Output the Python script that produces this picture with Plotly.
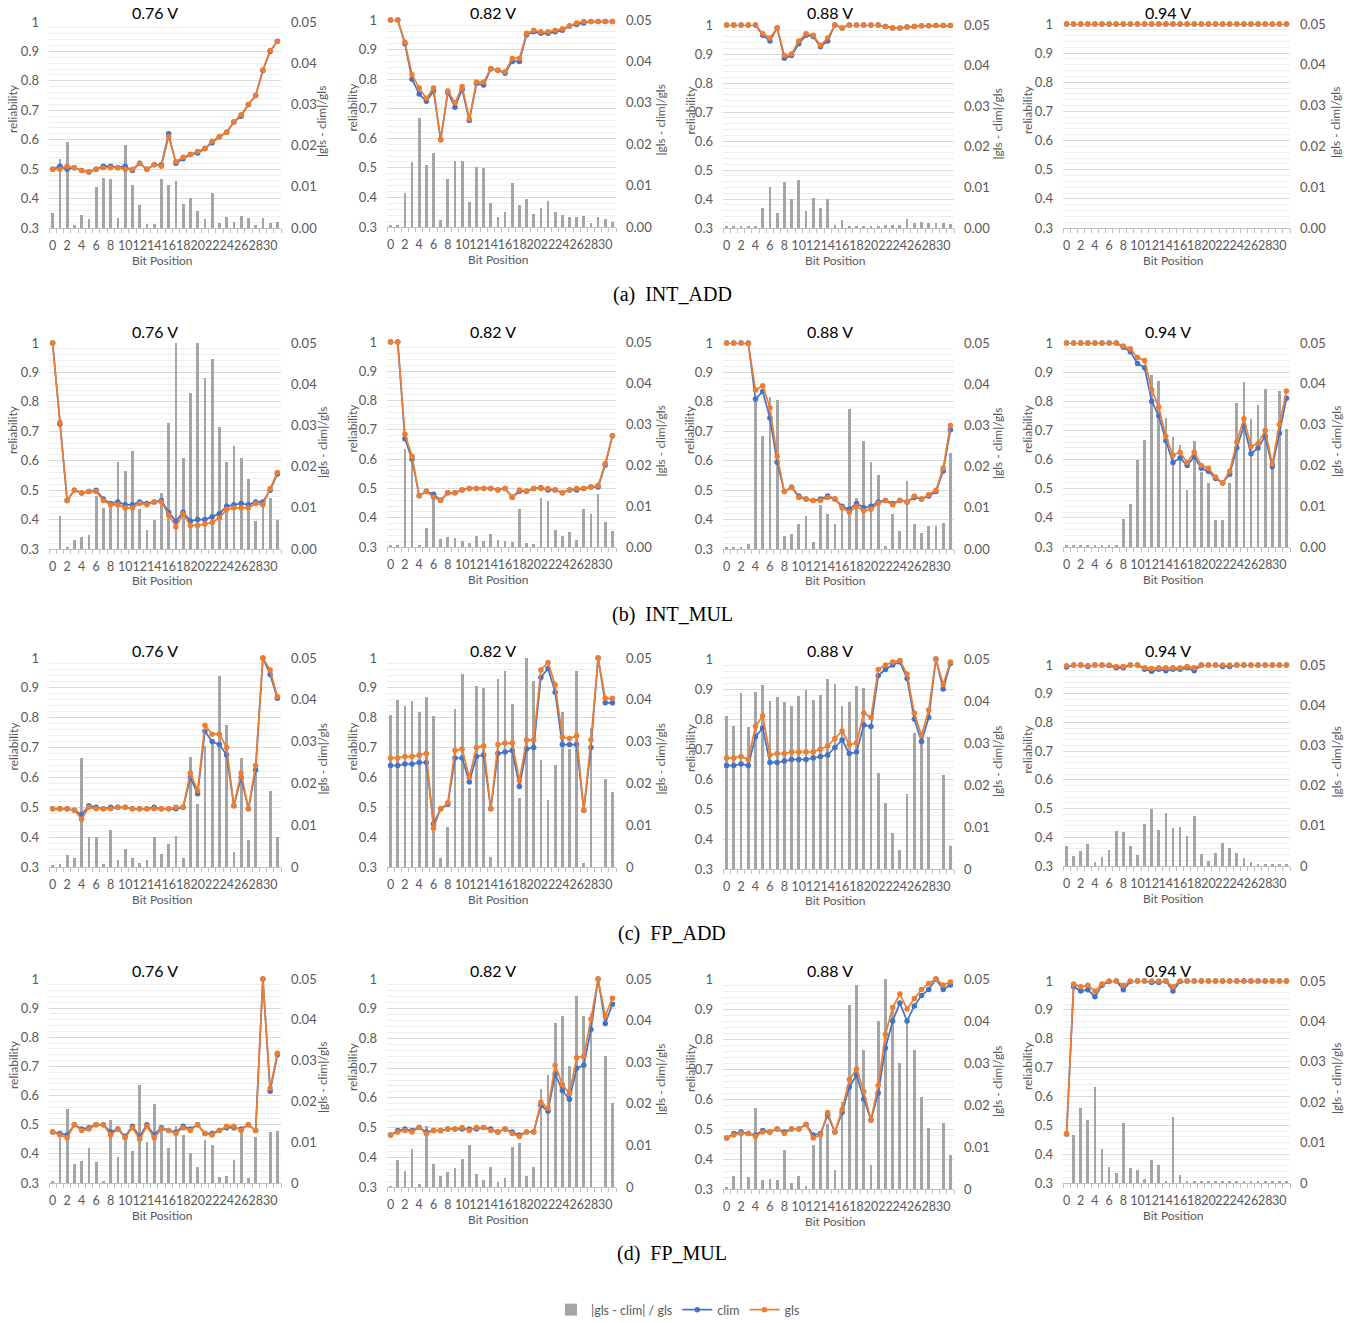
import plotly.graph_objects as go

bits = list(range(32))
tick_bits = list(range(0, 32, 2))
voltages = ["0.76 V", "0.82 V", "0.88 V", "0.94 V"]
captions = ["(a)  INT_ADD", "(b)  INT_MUL", "(c)  FP_ADD", "(d)  FP_MUL"]
left_ticks = [0.3, 0.4, 0.5, 0.6, 0.7, 0.8, 0.9, 1.0]
left_ticktext = ["0.3", "0.4", "0.5", "0.6", "0.7", "0.8", "0.9", "1"]
right_ticks = [0, 0.01, 0.02, 0.03, 0.04, 0.05]
right_ticktext_int = ["0.00", "0.01", "0.02", "0.03", "0.04", "0.05"]
right_ticktext_fp = ["0", "0.01", "0.02", "0.03", "0.04", "0.05"]

# ---------------- INT_ADD ----------------
int_add_076_clim = [0.50,0.51,0.50,0.505,0.495,0.49,0.50,0.51,0.51,0.505,0.51,0.495,0.52,0.50,0.515,0.515,0.62,0.52,0.535,0.55,0.555,0.57,0.59,0.61,0.625,0.66,0.68,0.72,0.75,0.835,0.90,0.935]
int_add_076_gls = [0.50,0.50,0.51,0.505,0.495,0.49,0.50,0.505,0.505,0.505,0.50,0.50,0.52,0.50,0.515,0.51,0.61,0.525,0.54,0.55,0.56,0.57,0.595,0.61,0.625,0.66,0.685,0.72,0.75,0.837,0.903,0.934]
int_add_076_diff = [0.0036,0.0168,0.0209,0.0007,0.0032,0.0021,0.0100,0.0121,0.0118,0.0025,0.0202,0.0104,0.0057,0.0010,0.0010,0.0120,0.0104,0.0114,0.0059,0.0074,0.0041,0.0021,0.0084,0.0013,0.0027,0.0014,0.0029,0.0024,0.0007,0.0025,0.0013,0.0014]

int_add_082_clim = [1.0,1.0,0.92,0.80,0.75,0.725,0.76,0.595,0.755,0.705,0.765,0.66,0.785,0.78,0.835,0.83,0.82,0.86,0.86,0.95,0.96,0.955,0.955,0.96,0.965,0.98,0.985,0.99,0.995,0.995,0.995,0.995]
int_add_082_gls = [1.0,1.0,0.925,0.815,0.77,0.735,0.77,0.595,0.76,0.72,0.775,0.665,0.79,0.79,0.835,0.83,0.825,0.87,0.87,0.955,0.965,0.96,0.96,0.965,0.97,0.98,0.99,0.995,0.995,0.995,0.995,0.995]
int_add_082_diff = [0.0005,0.0005,0.0082,0.0157,0.0264,0.0150,0.0179,0.0018,0.0116,0.0159,0.0159,0.0061,0.0146,0.0143,0.0059,0.0025,0.0036,0.0107,0.0054,0.0068,0.0031,0.0045,0.0063,0.0036,0.0029,0.0024,0.0024,0.0027,0.0010,0.0024,0.0020,0.0013]

int_add_088_clim = [1.0,1.0,1.0,1.0,1.0,0.965,0.945,0.99,0.885,0.895,0.935,0.965,0.96,0.925,0.945,1.0,0.99,1.0,1.0,1.0,1.0,1.0,0.995,0.99,0.99,0.993,0.995,0.997,0.997,0.998,0.998,0.998]
int_add_088_gls = [1.0,1.0,1.0,1.0,1.0,0.97,0.955,0.99,0.895,0.90,0.945,0.97,0.965,0.93,0.955,1.0,0.99,1.0,1.0,1.0,1.0,1.0,0.995,0.99,0.99,0.993,0.995,0.997,0.997,0.998,0.998,0.998]
int_add_088_diff = [0.0003,0.0003,0.0003,0.0003,0.0003,0.0050,0.0100,0.0036,0.0114,0.0071,0.0118,0.0043,0.0075,0.0049,0.0071,0.0007,0.0020,0.0006,0.0006,0.0006,0.0006,0.0006,0.0007,0.0007,0.0007,0.0021,0.0013,0.0016,0.0013,0.0013,0.0012,0.0010]

int_add_094_clim = [1.0,1.0,1.0,1.0,1.0,1.0,1.0,1.0,1.0,1.0,1.0,1.0,1.0,1.0,1.0,1.0,1.0,1.0,1.0,1.0,1.0,1.0,1.0,1.0,1.0,1.0,1.0,1.0,1.0,1.0,1.0,1.0]
int_add_094_gls = [1.0,1.0,1.0,1.0,1.0,1.0,1.0,1.0,1.0,1.0,1.0,1.0,1.0,1.0,1.0,1.0,1.0,1.0,1.0,1.0,1.0,1.0,1.0,1.0,1.0,1.0,1.0,1.0,1.0,1.0,1.0,1.0]
int_add_094_diff = [0.0,0.0,0.0,0.0,0.0,0.0,0.0,0.0,0.0,0.0,0.0,0.0,0.0,0.0,0.0,0.0,0.0,0.0,0.0,0.0,0.0,0.0,0.0,0.0,0.0,0.0,0.0,0.0,0.0,0.0,0.0,0.0]

# ---------------- INT_MUL ----------------
int_mul_076_clim = [1.0,0.725,0.465,0.50,0.49,0.495,0.50,0.47,0.455,0.46,0.45,0.45,0.46,0.455,0.46,0.465,0.425,0.395,0.425,0.395,0.40,0.40,0.41,0.42,0.445,0.45,0.455,0.45,0.46,0.46,0.50,0.555]
int_mul_076_gls = [1.0,0.73,0.465,0.50,0.49,0.495,0.495,0.465,0.45,0.45,0.44,0.44,0.455,0.45,0.46,0.46,0.415,0.375,0.42,0.38,0.38,0.385,0.39,0.405,0.435,0.44,0.44,0.44,0.455,0.45,0.505,0.56]
int_mul_076_diff = [0.0,0.0079,0.0005,0.0021,0.0029,0.0033,0.0129,0.0100,0.0107,0.0211,0.0189,0.0239,0.0096,0.0046,0.0071,0.0136,0.0307,0.0500,0.0221,0.0379,0.0500,0.0414,0.0461,0.0296,0.0211,0.0249,0.0221,0.0171,0.0068,0.0114,0.0125,0.0071]

int_mul_082_clim = [1.0,1.0,0.67,0.60,0.475,0.49,0.48,0.46,0.485,0.485,0.495,0.50,0.50,0.50,0.50,0.495,0.50,0.47,0.49,0.49,0.50,0.502,0.495,0.495,0.485,0.495,0.495,0.50,0.505,0.505,0.58,0.68]
int_mul_082_gls = [1.0,1.0,0.685,0.61,0.475,0.49,0.47,0.46,0.485,0.485,0.495,0.50,0.50,0.50,0.50,0.495,0.50,0.47,0.495,0.49,0.50,0.50,0.50,0.495,0.485,0.495,0.50,0.50,0.505,0.51,0.585,0.68]
int_mul_082_diff = [0.0005,0.0005,0.0239,0.0212,0.0005,0.0046,0.0131,0.0019,0.0024,0.0022,0.0014,0.0010,0.0026,0.0014,0.0032,0.0016,0.0015,0.0011,0.0092,0.0010,0.0008,0.0119,0.0113,0.0041,0.0028,0.0037,0.0016,0.0092,0.0081,0.0130,0.0060,0.0038]

int_mul_088_clim = [1.0,1.0,1.0,1.0,0.81,0.835,0.745,0.595,0.495,0.51,0.48,0.47,0.465,0.47,0.48,0.47,0.445,0.435,0.455,0.44,0.445,0.46,0.465,0.455,0.465,0.46,0.475,0.47,0.48,0.495,0.565,0.705]
int_mul_088_gls = [1.0,1.0,1.0,0.998,0.84,0.855,0.78,0.615,0.495,0.51,0.475,0.47,0.465,0.465,0.475,0.47,0.44,0.425,0.445,0.43,0.435,0.455,0.465,0.45,0.465,0.46,0.48,0.47,0.485,0.50,0.575,0.72]
int_mul_088_diff = [0.0003,0.0003,0.0003,0.0013,0.0365,0.0275,0.0368,0.0361,0.0032,0.0036,0.0061,0.0079,0.0018,0.0107,0.0086,0.0061,0.0100,0.0339,0.0125,0.0261,0.0211,0.0179,0.0007,0.0086,0.0043,0.0164,0.0061,0.0039,0.0057,0.0057,0.0064,0.0232]

int_mul_094_clim = [1.0,1.0,1.0,1.0,1.0,1.0,1.0,1.0,0.985,0.97,0.93,0.915,0.80,0.75,0.665,0.59,0.605,0.58,0.61,0.57,0.56,0.535,0.52,0.55,0.64,0.715,0.62,0.64,0.68,0.575,0.69,0.81]
int_mul_094_gls = [1.0,1.0,1.0,1.0,1.0,1.0,1.0,1.0,0.99,0.98,0.95,0.94,0.84,0.78,0.68,0.615,0.625,0.59,0.625,0.58,0.57,0.54,0.52,0.56,0.66,0.74,0.645,0.655,0.70,0.585,0.72,0.835]
int_mul_094_diff = [0.0003,0.0003,0.0003,0.0003,0.0003,0.0003,0.0003,0.0003,0.0069,0.0105,0.0213,0.0262,0.0421,0.0407,0.0315,0.0270,0.0250,0.0140,0.0261,0.0185,0.0158,0.0065,0.0067,0.0158,0.0354,0.0404,0.0314,0.0349,0.0388,0.0213,0.0382,0.0290]

# ---------------- FP_ADD ----------------
fp_add_076_clim = [0.495,0.495,0.495,0.49,0.475,0.505,0.50,0.495,0.50,0.50,0.50,0.495,0.495,0.495,0.50,0.495,0.495,0.495,0.50,0.60,0.545,0.755,0.72,0.71,0.675,0.505,0.60,0.495,0.625,1.0,0.945,0.865]
fp_add_076_gls = [0.495,0.495,0.495,0.49,0.46,0.50,0.495,0.495,0.495,0.50,0.50,0.495,0.495,0.495,0.495,0.495,0.495,0.50,0.50,0.615,0.555,0.775,0.745,0.745,0.70,0.505,0.615,0.495,0.64,1.0,0.96,0.87]
fp_add_076_diff = [0.0005,0.0007,0.0029,0.0021,0.0260,0.0071,0.0071,0.0008,0.0089,0.0017,0.0043,0.0021,0.0010,0.0016,0.0071,0.0032,0.0054,0.0075,0.0021,0.0264,0.0150,0.0290,0.0300,0.0457,0.0339,0.0036,0.0260,0.0064,0.0230,0.0,0.0182,0.0071]

fp_add_082_clim = [0.64,0.64,0.645,0.645,0.65,0.65,0.445,0.495,0.51,0.665,0.665,0.585,0.67,0.675,0.495,0.68,0.685,0.69,0.57,0.695,0.70,0.935,0.965,0.885,0.71,0.71,0.71,0.49,0.70,1.0,0.85,0.85]
fp_add_082_gls = [0.665,0.665,0.67,0.67,0.675,0.68,0.43,0.495,0.515,0.69,0.695,0.60,0.70,0.705,0.495,0.71,0.715,0.715,0.59,0.725,0.725,0.96,0.985,0.91,0.735,0.73,0.74,0.49,0.725,1.0,0.865,0.865]
fp_add_082_diff = [0.0364,0.0400,0.0386,0.0396,0.0371,0.0407,0.0361,0.0021,0.0096,0.0379,0.0461,0.0189,0.0432,0.0429,0.0025,0.0450,0.0468,0.0389,0.0164,0.0500,0.0446,0.0257,0.0161,0.0243,0.0371,0.0282,0.0468,0.0010,0.0332,0.0,0.0211,0.0179]

fp_add_088_clim = [0.645,0.645,0.65,0.645,0.74,0.77,0.655,0.655,0.66,0.665,0.665,0.665,0.67,0.675,0.68,0.705,0.73,0.685,0.69,0.78,0.775,0.945,0.965,0.98,0.99,0.935,0.80,0.725,0.805,1.0,0.90,0.985]
fp_add_088_gls = [0.67,0.67,0.675,0.665,0.775,0.81,0.68,0.685,0.685,0.69,0.69,0.69,0.69,0.70,0.71,0.735,0.76,0.715,0.72,0.82,0.805,0.965,0.98,0.99,0.995,0.95,0.82,0.745,0.83,1.0,0.915,0.99]
fp_add_088_diff = [0.0364,0.0340,0.0418,0.0337,0.0422,0.0439,0.0400,0.0409,0.0398,0.0388,0.0412,0.0426,0.0402,0.0414,0.0452,0.0441,0.0388,0.0397,0.0436,0.0430,0.0340,0.0229,0.0157,0.0086,0.0046,0.0179,0.0325,0.0300,0.0314,0.0,0.0225,0.0054]

fp_add_094_clim = [0.993,1.0,1.0,0.995,1.0,1.0,0.998,0.99,0.99,1.0,1.0,0.985,0.978,0.985,0.98,0.985,0.985,0.99,0.98,1.0,1.0,1.0,0.995,0.995,1.0,1.0,1.0,1.0,1.0,1.0,1.0,1.0]
fp_add_094_gls = [0.997,1.0,1.0,0.998,1.0,1.0,1.0,0.995,0.995,1.0,1.0,0.99,0.988,0.99,0.99,0.99,0.99,0.995,0.99,1.0,1.0,1.0,1.0,1.0,1.0,1.0,1.0,1.0,1.0,1.0,1.0,1.0]
fp_add_094_diff = [0.0051,0.0025,0.0037,0.0054,0.0011,0.0023,0.0040,0.0086,0.0084,0.0049,0.0028,0.0105,0.0141,0.0090,0.0131,0.0094,0.0097,0.0075,0.0125,0.0030,0.0013,0.0033,0.0056,0.0044,0.0032,0.0021,0.0009,0.0005,0.0005,0.0005,0.0005,0.0005]

# ---------------- FP_MUL ----------------
fp_mul_076_clim = [0.475,0.47,0.465,0.50,0.485,0.49,0.50,0.50,0.475,0.485,0.46,0.495,0.46,0.50,0.465,0.49,0.48,0.475,0.495,0.485,0.50,0.47,0.47,0.48,0.49,0.49,0.485,0.50,0.48,1.0,0.615,0.74]
fp_mul_076_gls = [0.475,0.465,0.455,0.50,0.48,0.485,0.50,0.50,0.465,0.485,0.455,0.49,0.45,0.495,0.455,0.485,0.48,0.47,0.49,0.48,0.50,0.47,0.465,0.48,0.495,0.495,0.48,0.50,0.48,1.0,0.625,0.745]
fp_mul_076_diff = [0.0005,0.0110,0.0182,0.0046,0.0055,0.0086,0.0052,0.0005,0.0154,0.0064,0.0107,0.0079,0.0241,0.0101,0.0194,0.0130,0.0087,0.0139,0.0118,0.0073,0.0039,0.0106,0.0094,0.0015,0.0018,0.0057,0.0125,0.0012,0.0113,0.0,0.0125,0.0127]

fp_mul_082_clim = [0.475,0.49,0.495,0.49,0.50,0.485,0.49,0.49,0.495,0.495,0.495,0.495,0.495,0.50,0.495,0.485,0.495,0.485,0.475,0.485,0.485,0.575,0.555,0.68,0.625,0.595,0.70,0.71,0.83,1.0,0.85,0.915]
fp_mul_082_gls = [0.475,0.485,0.49,0.485,0.50,0.48,0.49,0.49,0.495,0.495,0.50,0.49,0.50,0.50,0.49,0.485,0.495,0.48,0.47,0.485,0.485,0.585,0.565,0.71,0.645,0.615,0.735,0.74,0.865,1.0,0.875,0.935]
fp_mul_082_diff = [0.0002,0.0064,0.0039,0.0092,0.0008,0.0146,0.0056,0.0027,0.0037,0.0046,0.0068,0.0102,0.0031,0.0018,0.0049,0.0012,0.0022,0.0096,0.0105,0.0027,0.0048,0.0236,0.0270,0.0394,0.0410,0.0290,0.0460,0.0411,0.0418,0.0,0.0316,0.0202]

fp_mul_088_clim = [0.47,0.485,0.49,0.485,0.48,0.495,0.49,0.50,0.49,0.50,0.50,0.515,0.48,0.485,0.545,0.49,0.555,0.64,0.68,0.60,0.53,0.62,0.77,0.86,0.92,0.86,0.91,0.945,0.965,1.0,0.965,0.98]
fp_mul_088_gls = [0.47,0.48,0.485,0.485,0.475,0.49,0.49,0.50,0.485,0.50,0.50,0.515,0.47,0.48,0.555,0.49,0.565,0.665,0.70,0.625,0.53,0.645,0.815,0.905,0.95,0.90,0.935,0.965,0.985,1.0,0.98,0.99]
fp_mul_088_diff = [0.0003,0.0032,0.0136,0.0029,0.0193,0.0021,0.0025,0.0021,0.0093,0.0014,0.0032,0.0007,0.0104,0.0129,0.0154,0.0046,0.0207,0.0439,0.0486,0.0332,0.0057,0.0400,0.0500,0.0439,0.0300,0.0407,0.0332,0.0218,0.0146,0.0,0.0157,0.0082]

fp_mul_094_clim = [0.47,0.98,0.965,0.97,0.945,0.985,0.998,1.0,0.97,0.998,1.0,1.0,0.995,0.995,1.0,0.965,0.998,1.0,1.0,1.0,1.0,1.0,1.0,1.0,1.0,1.0,1.0,1.0,1.0,1.0,1.0,1.0]
fp_mul_094_gls = [0.47,0.99,0.98,0.985,0.965,0.99,1.0,1.0,0.985,1.0,1.0,1.0,1.0,1.0,1.0,0.98,1.0,1.0,1.0,1.0,1.0,1.0,1.0,1.0,1.0,1.0,1.0,1.0,1.0,1.0,1.0,1.0]
fp_mul_094_diff = [0.0,0.0118,0.0186,0.0156,0.0238,0.0083,0.0040,0.0025,0.0149,0.0036,0.0033,0.0009,0.0058,0.0044,0.0006,0.0164,0.0021,0.0003,0.0003,0.0003,0.0003,0.0003,0.0003,0.0003,0.0003,0.0003,0.0003,0.0003,0.0003,0.0003,0.0003,0.0003]

panels = [
    (int_add_076_clim, int_add_076_gls, int_add_076_diff),
    (int_add_082_clim, int_add_082_gls, int_add_082_diff),
    (int_add_088_clim, int_add_088_gls, int_add_088_diff),
    (int_add_094_clim, int_add_094_gls, int_add_094_diff),
    (int_mul_076_clim, int_mul_076_gls, int_mul_076_diff),
    (int_mul_082_clim, int_mul_082_gls, int_mul_082_diff),
    (int_mul_088_clim, int_mul_088_gls, int_mul_088_diff),
    (int_mul_094_clim, int_mul_094_gls, int_mul_094_diff),
    (fp_add_076_clim, fp_add_076_gls, fp_add_076_diff),
    (fp_add_082_clim, fp_add_082_gls, fp_add_082_diff),
    (fp_add_088_clim, fp_add_088_gls, fp_add_088_diff),
    (fp_add_094_clim, fp_add_094_gls, fp_add_094_diff),
    (fp_mul_076_clim, fp_mul_076_gls, fp_mul_076_diff),
    (fp_mul_082_clim, fp_mul_082_gls, fp_mul_082_diff),
    (fp_mul_088_clim, fp_mul_088_gls, fp_mul_088_diff),
    (fp_mul_094_clim, fp_mul_094_gls, fp_mul_094_diff),
]

# ---------------- geometry (reference pixels) ----------------
W, H, OFF = 1360, 1323, 0
COL_X = [(49, 281), (387, 616), (723, 954), (1063, 1290)]
ROW_Y = [
    [(22, 228), (20, 227), (25, 228), (24, 228)],
    [(343, 549), (342, 547), (343, 549), (343, 547)],
    [(658, 867), (658, 867), (659, 869), (665, 866)],
    [(979, 1183), (979, 1187), (979, 1189), (981, 1183)],
]
TITLE_Y = [12, 331, 650, 971]
TITLE_X = [155, 493, 830, 1168]
LTITLE_X = [13, 352, 690, 1027]
RTITLE_X = [322, 660, 997, 1336]
CAPTION_Y = [295, 614, 933, 1253]


def fx(x):
    return (x - OFF) / W


def fy(y):
    return 1 - (y - OFF) / H


BLUE = "#4472C4"
ORANGE = "#ED7D31"
GREY = "#A5A5A5"
TXT = "#595959"
FONT = "Lato"

fig = go.Figure()
layout = {}
annotations = []

for k, (clim, gls, diff) in enumerate(panels):
    r, c = divmod(k, 4)
    xn = k + 1
    yb = 2 * k + 1
    yl = 2 * k + 2
    xid = "x" if xn == 1 else f"x{xn}"
    ybid = "y" if yb == 1 else f"y{yb}"
    ylid = f"y{yl}"
    xkey = "xaxis" if xn == 1 else f"xaxis{xn}"
    ybkey = "yaxis" if yb == 1 else f"yaxis{yb}"
    ylkey = f"yaxis{yl}"

    x0, x1 = COL_X[c]
    ytop, ybot = ROW_Y[r][c]

    fig.add_trace(go.Bar(x=bits, y=diff, xaxis=xid, yaxis=ybid, width=0.38,
                         marker=dict(color=GREY, line=dict(width=0)),
                         name="|gls - clim| / gls", legendgroup="d",
                         showlegend=(k == 0)))
    fig.add_trace(go.Scatter(x=bits, y=clim, xaxis=xid, yaxis=ylid, mode="lines+markers",
                             line=dict(color=BLUE, width=1.7), marker=dict(color=BLUE, size=5.5),
                             name="clim", legendgroup="c", showlegend=(k == 0), cliponaxis=False))
    fig.add_trace(go.Scatter(x=bits, y=gls, xaxis=xid, yaxis=ylid, mode="lines+markers",
                             line=dict(color=ORANGE, width=1.7), marker=dict(color=ORANGE, size=5.5),
                             name="gls", legendgroup="g", showlegend=(k == 0), cliponaxis=False))

    layout[xkey] = dict(
        domain=[fx(x0), fx(x1)], anchor=ybid, range=[-0.5, 31.5], automargin=False,
        tickmode="array", tickvals=tick_bits, ticktext=[str(b) for b in tick_bits],
        tickangle=0, ticks="", showline=True, linecolor="#BFBFBF", linewidth=1,
        showgrid=False, zeroline=False, ticklabelstandoff=6,
        tickfont=dict(family=FONT, size=12.5, color=TXT),
        minor=dict(tick0=0.5, dtick=1, ticks="outside", ticklen=4,
                   tickcolor="#BFBFBF", showgrid=False),
    )
    layout[ybkey] = dict(
        domain=[fy(ybot), fy(ytop)], anchor=xid, side="right", range=[0, 0.05],
        automargin=False, tickmode="array", tickvals=right_ticks,
        ticktext=right_ticktext_int if r < 2 else right_ticktext_fp,
        showgrid=False, zeroline=False, showline=False, ticks="",
        ticklabelstandoff=9, tickfont=dict(family=FONT, size=13, color=TXT),
    )
    layout[ylkey] = dict(
        overlaying=ybid, anchor=xid, side="left", range=[0.3, 1.0], automargin=False,
        tickmode="array", tickvals=left_ticks, ticktext=left_ticktext,
        showgrid=True, gridcolor="#D9D9D9", gridwidth=1, zeroline=False,
        showline=False, ticks="", ticklabelstandoff=9,
        tickfont=dict(family=FONT, size=13, color=TXT),
        minor=dict(dtick=0.02, showgrid=True, gridcolor="#EEEEEE", gridwidth=1),
    )

    pcx = (x0 + x1) / 2
    pcy = (ytop + ybot) / 2
    annotations.append(dict(x=fx(TITLE_X[c]), y=fy(TITLE_Y[r]), xref="paper", yref="paper",
                            text=voltages[c], showarrow=False, xanchor="center", yanchor="middle",
                            font=dict(family=FONT, size=16, color="black")))
    annotations.append(dict(x=fx(LTITLE_X[c]), y=fy(pcy - 16), xref="paper", yref="paper",
                            text="reliability", showarrow=False, textangle=-90,
                            xanchor="center", yanchor="middle",
                            font=dict(family=FONT, size=12, color=TXT)))
    annotations.append(dict(x=fx(RTITLE_X[c]), y=fy(pcy - 3), xref="paper", yref="paper",
                            text="|gls - clim|/gls", showarrow=False, textangle=-90,
                            xanchor="center", yanchor="middle",
                            font=dict(family=FONT, size=12, color=TXT)))
    annotations.append(dict(x=fx(pcx - 3), y=fy(ybot + 32), xref="paper", yref="paper",
                            text="Bit Position", showarrow=False, xanchor="center", yanchor="middle",
                            font=dict(family=FONT, size=12, color=TXT)))

for r in range(4):
    annotations.append(dict(x=fx(672), y=fy(CAPTION_Y[r]), xref="paper", yref="paper",
                            text=captions[r], showarrow=False, xanchor="center", yanchor="middle",
                            font=dict(family="Liberation Serif", size=20, color="black")))

fig.update_layout(
    width=W, height=H,
    margin=dict(l=0, r=0, t=0, b=0, pad=0, autoexpand=False),
    paper_bgcolor="white", plot_bgcolor="white",
    barmode="overlay", bargap=0,
    showlegend=True,
    legend=dict(orientation="h", x=fx(678), xanchor="center", y=fy(1310), yanchor="middle",
                font=dict(family=FONT, size=12.5, color=TXT), itemwidth=30,
                bgcolor="rgba(0,0,0,0)"),
    annotations=annotations,
    **layout,
)

fig.write_html("out.html", config={"displayModeBar": False},
               post_script="document.body.style.margin='0px';document.body.style.overflow='hidden';")
